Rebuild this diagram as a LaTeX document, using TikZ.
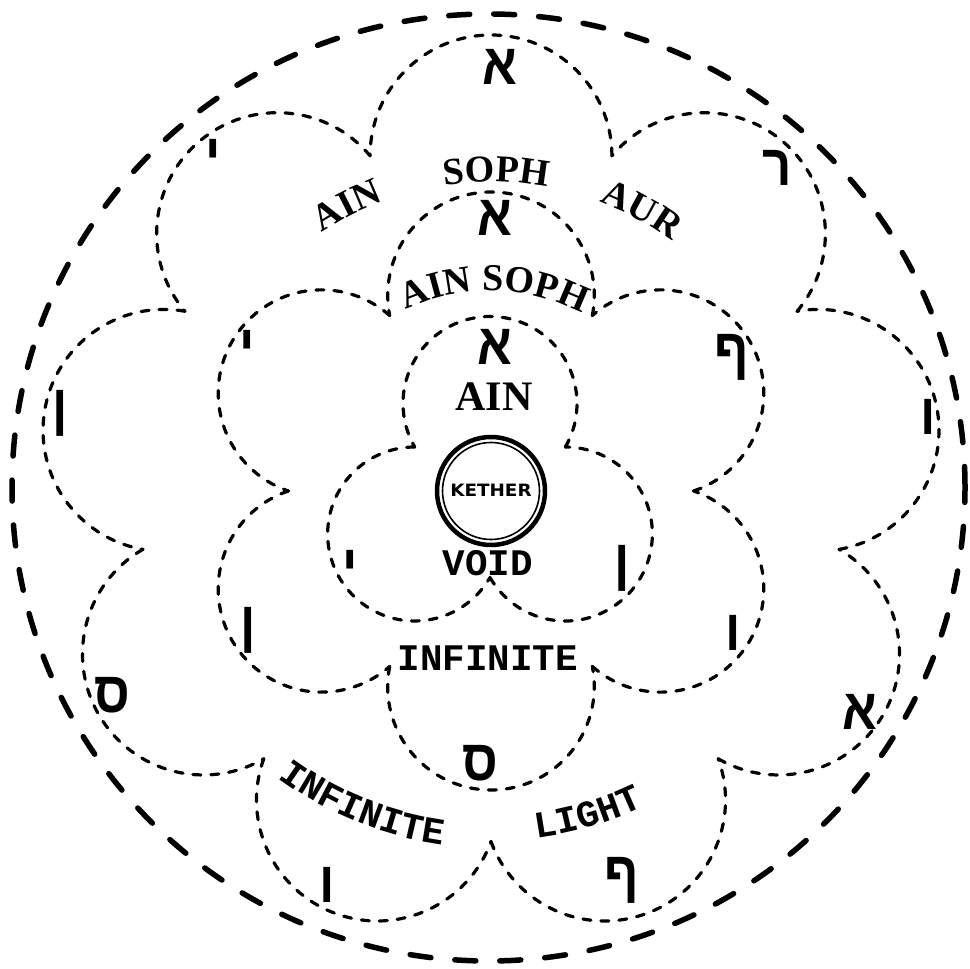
\documentclass[tikz,border=0pt]{standalone}
\usepackage{fontspec}
\usetikzlibrary{decorations.text}
\newfontfamily\serifw{Liberation Serif}
\newfontfamily\monof{Liberation Mono}
\newfontfamily\hebf{Liberation Sans}[Script=Hebrew]
\newfontfamily\kethf{DejaVu Sans}
\tikzset{
  scal/.style={line width=3.2pt, dash pattern=on 8pt off 10pt, line cap=round},
  bigdash/.style={line width=5.5pt, dash pattern=on 21pt off 24pt, line cap=round},
  heb/.style={font=\hebf\bfseries\fontsize{58}{58}\selectfont, inner sep=0pt, xscale=0.88},
  serifword/.style={font=\serifw\bfseries\fontsize{42}{42}\selectfont, inner sep=0pt},
  monoword/.style={font=\monof\bfseries\fontsize{37.5}{37.5}\selectfont, inner sep=0pt},
}
\newcommand{\serifdeco}{|\serifw\bfseries\fontsize{38}{38}\selectfont|}
\newcommand{\monodeco}{|\monof\bfseries\fontsize{37.5}{37.5}\selectfont|}
\begin{document}
\begin{tikzpicture}[x=1pt,y=1pt]
\useasboundingbox (0,0) rectangle (969,969);
% outer dashed circle
\draw[bigdash] (488.5,481.5) ellipse [x radius=476.5pt, y radius=473.5pt];
% inner 3-lobe ring
\foreach \t in {90,210,330}
  \draw[scal] (490,478.5) ++(\t:87pt) ++({\t-120}:87pt) arc[start angle={\t-120}, delta angle=240, radius=87pt];
% middle 6-lobe ring
\foreach \t in {90,150,210,270,330,390}
  \draw[scal] (491,478) ++(\t:195.7pt) ++({\t-101.3}:103.3pt) arc[start angle={\t-101.3}, delta angle=202.6, radius=103.3pt];
% outer 9-lobe ring
\foreach \t in {90,130,170,210,250,290,330,370,410}
  \draw[scal] (491,481) ++(\t:332.1pt) ++({\t-90}:120.9pt) arc[start angle={\t-90}, delta angle=180, radius=120.9pt];
% Kether
\draw[line width=4.5pt] (491,478) circle[radius=54pt];
\draw[line width=1.6pt] (491,478) circle[radius=48.5pt];
\node[font=\kethf\bfseries\fontsize{17}{17}\selectfont, xscale=1.08, inner sep=0pt] (keth) at (491,479) {KETHER};
% straight words
\node[serifword] (ain1) at (494,572) {AIN};
\node[monoword] (void) at (488,406) {VOID};
\node[monoword] (inf1) at (488,311) {INFINITE};
% curved words
\path[decorate, decoration={text along path, text align=center, text={\serifdeco AIN SOPH}}]
  (491,478) ++(129:200pt) arc[start angle=129, end angle=49, radius=200pt];
\path[decorate, decoration={text along path, text align=center, text={\serifdeco SOPH}}]
  (491,481) ++(109:306pt) arc[start angle=109, end angle=69, radius=306pt];
\path[decorate, decoration={text along path, text align=center, text={\serifdeco AIN}}]
  (491,481) ++(135:306pt) arc[start angle=135, end angle=99, radius=306pt];
\path[decorate, decoration={text along path, text align=center, text={\serifdeco AUR}}]
  (491,481) ++(80:306pt) arc[start angle=80, end angle=43, radius=306pt];
\path[decorate, decoration={text along path, text align=center, text={\monodeco INFINITE}}]
  (491,481) ++(223:360pt) arc[start angle=223, end angle=273, radius=360pt];
\path[decorate, decoration={text along path, text align=center, text={\monodeco LIGHT}}]
  (491,481) ++(266.5:353pt) arc[start angle=266.5, end angle=306.5, radius=353pt];
% Hebrew letters, inner ring
\node[heb] (i1) at (495,622) {א};
\node[heb] (i2) at (350,401) {י};
\node[heb] (i3) at (622,401) {ן};
% middle ring
\node[heb] (m1) at (495,751) {א};
\node[heb] (m2) at (247,621) {י};
\node[heb] (m3) at (248,339) {ן};
\node[heb] (m4) at (480,206) {ס};
\node[heb] (m5) at (733,336) {ו};
\node[heb] (m6) at (732,612) {ף};
% outer ring
\node[heb] (o1) at (500,902) {א};
\node[heb] (o2) at (213,812) {י};
\node[heb] (o3) at (60,556) {ן};
\node[heb] (o4) at (112,274) {ס};
\node[heb] (o5) at (327,84) {ו};
\node[heb] (o6) at (622,89) {ף};
\node[heb] (o7) at (860,257) {א};
\node[heb] (o8) at (928,552) {ו};
\node[heb] (o9) at (777,801) {ר};
\end{tikzpicture}
\end{document}
